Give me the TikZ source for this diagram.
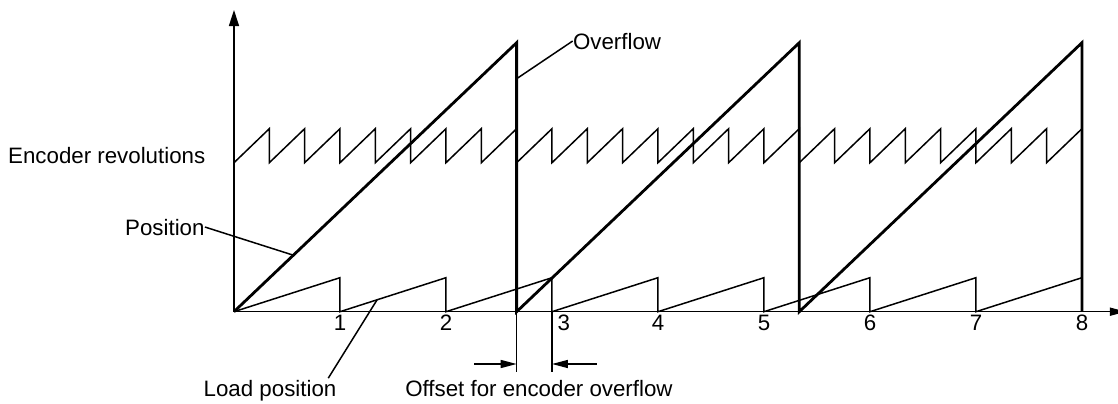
\documentclass[tikz,border=0pt]{standalone}
\usepackage{fontspec}
\setmainfont{Liberation Sans}
\usetikzlibrary{arrows.meta, calc}

\begin{document}
\begin{tikzpicture}[x=53pt, y=0.5pt,
  thinline/.style={line width=0.75pt},
  thickline/.style={line width=1.4pt},
  lbl/.style={font=\fontsize{11.15}{13}\selectfont, inner sep=0pt},
  dimarrow/.style={thinline, -{Triangle[length=8pt, width=4pt]}}]
  \useasboundingbox (-2.2075,-92.3) rectangle (8.34,311.7);

  % Axes
  \coordinate (O) at (0,0);
  \coordinate (ytop) at (0,301.7);
  \coordinate (xend) at (8.415,0);
  \draw[thinline, -{Triangle[length=8pt, width=5pt]}] (O) -- (ytop);
  \draw[thinline, -{Triangle[length=8pt, width=4pt]}] (O) -- (xend);

  % Tick labels
  \foreach \i in {1,2,4,5,6,7,8}
    \node[lbl, anchor=north] (t\i) at (\i,-3) {\i};
  \node[lbl, anchor=north west] (t3) at (3.05,-3) {3};

  % Encoder revolutions: three teeth per unit
  \draw[thinline] (0,149)
    \foreach \k in {1,...,24} { -- (\k/3,183) -- (\k/3,149) };

  % Load position
  \draw[thinline] (O)
    \foreach \i in {1,...,8} { -- (\i,34) -- (\i,0) };

  % Position with overflow
  \draw[thickline] (O) -- (8/3,269) -- (8/3,0) -- (16/3,269) -- (16/3,0)
    -- (8,269) -- (8,0);

  % Offset for encoder overflow
  \coordinate (ovfx) at (8/3,0);
  \coordinate (thr) at (3,0);
  \coordinate (ovfext) at (8/3,-60.6);
  \coordinate (thrext) at (3,-60.6);
  \coordinate (dimL) at (2.267,-52.3);
  \coordinate (dimR) at (3.4217,-52.3);
  \draw[thinline] (ovfx) -- (ovfext);
  \draw[thinline] (thr) -- (thrext);
  \draw[dimarrow] (dimL) -- (dimL -| ovfx);
  \draw[dimarrow] (dimR) -- (dimR -| thr);

  % Labels
  \node[lbl, anchor=base east] (enclbl) at (-0.267,148) {Encoder revolutions};
  \node[lbl, anchor=base east] (poslbl) at (-0.274,76.7) {Position};
  \node[lbl, anchor=base] (loadlbl) at (0.34,-85) {Load position};
  \node[lbl, anchor=base] (offlbl) at (2.877,-85) {Offset for encoder overflow};
  \node[lbl, anchor=base west] (ovflbl) at (3.195,262.7) {Overflow};

  % Leaders
  \coordinate (posline) at (0.56,56.5);
  \coordinate (loadline) at (1.35,11.9);
  \coordinate (ovfline) at (8/3,233);
  \draw[thinline] (poslbl.east) -- (posline);
  \draw[thinline] ($(loadlbl.north east)+(-0.08,2)$) -- (loadline);
  \draw[thinline] (ovflbl.west) -- (ovfline);
\end{tikzpicture}
\end{document}
